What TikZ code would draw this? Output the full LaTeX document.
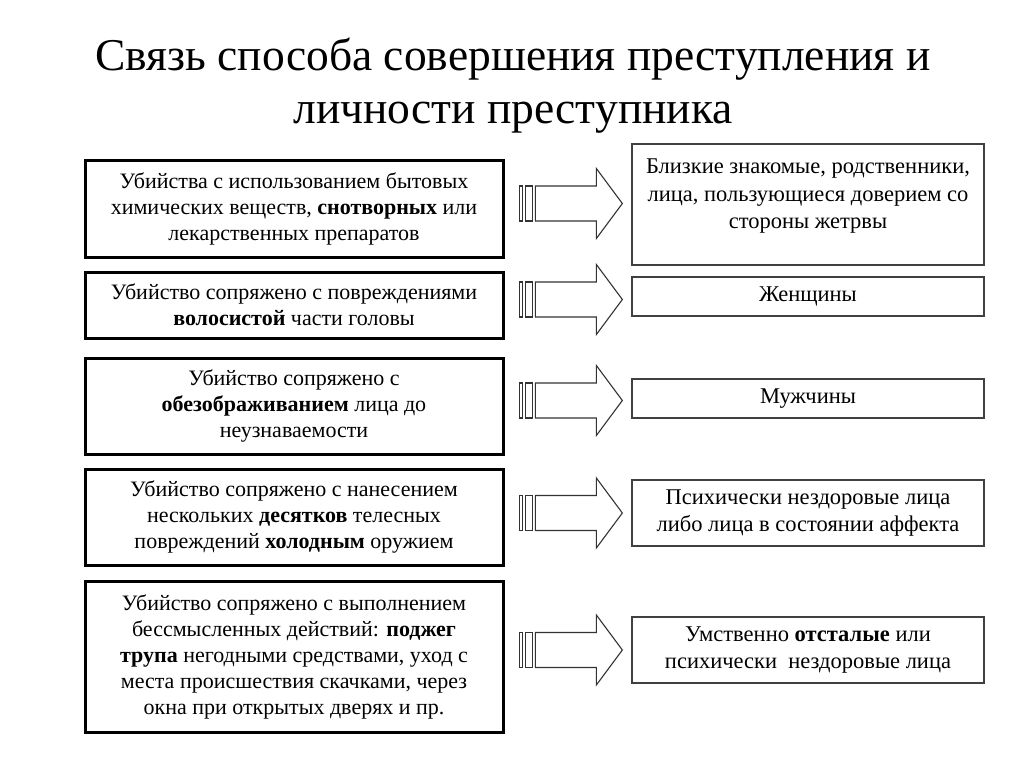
\documentclass[tikz,border=0pt]{standalone}
\usepackage{fontspec}
\setmainfont{Liberation Serif}
\usetikzlibrary{calc}
\begin{document}
\begin{tikzpicture}[x=1pt,y=-1pt,
  lbox/.style={draw=black,line width=3pt,align=center,inner sep=0pt,
    minimum width=418pt,font=\fontsize{22}{26}\selectfont},
  rbox/.style={draw=black!75,line width=1.3pt,align=center,inner sep=0pt,
    minimum width=352pt,font=\fontsize{22.5}{27}\selectfont},
  btext/.style={align=center,inner sep=0pt,font=\fontsize{22.5}{27.5}\selectfont},
  arrline/.style={draw=black!80,line width=1.1pt,fill=white,line join=miter},
  stripearrow/.pic={
    \path[arrline] (-26,-17.5) -- (-87,-17.5) -- (-87,17.5) -- (-26,17.5)
      -- (-26,35) -- (0,0) -- (-26,-35) -- cycle;
    \path[arrline] (-97,-17.5) rectangle (-90,17.5);
    \path[arrline] (-103,-17.5) rectangle (-100,17.5);
  }]
\useasboundingbox (0,0) rectangle (1024,767);
\fill[white] (0,0) rectangle (1024,767);

\node[align=center,font=\fontsize{45.5}{53}\selectfont] (title) at (513,86)
  {Связь способа совершения преступления и\\личности преступника};

% left boxes
\node[lbox,minimum height=96pt] (L1) at (294,209)
  {Убийства с использованием бытовых\\химических веществ, \textbf{снотворных} или\\лекарственных препаратов};
\node[lbox,minimum height=66pt] (L2) at (294,305)
  {Убийство сопряжено с повреждениями\\\textbf{волосистой} части головы};
\node[lbox,minimum height=96pt] (L3) at (294,406)
  {Убийство сопряжено с\\\textbf{обезображиванием} лица до\\неузнаваемости};
\node[lbox,minimum height=96pt] (L4) at (294,517)
  {Убийство сопряжено с нанесением\\нескольких \textbf{десятков} телесных\\повреждений \textbf{холодным} оружием};
\node[lbox,minimum height=151pt] (L5) at (294,656.5)
  {Убийство сопряжено с выполнением\\бессмысленных действий: \textbf{поджег}\\\textbf{трупа} негодными средствами, уход с\\места происшествия скачками, через\\окна при открытых дверях и пр.};

% right boxes
\node[rbox,minimum height=121pt] (R1) at (808,204.5) {};
\node[btext] (R1t) at ($(R1.center)+(0,-8)$)
  {Близкие знакомые, родственники,\\лица, пользующиеся доверием со\\стороны жетрвы};
\node[rbox,minimum height=39pt] (R2) at (808,296.5) {Женщины};
\node[rbox,minimum height=39pt] (R3) at (808,398.5) {Мужчины};
\node[rbox,minimum height=66pt] (R4) at (808,513)
  {Психически нездоровые лица\\либо лица в состоянии аффекта};
\node[rbox,minimum height=66pt] (R5) at (808,650)
  {Умственно \textbf{отсталые} или\\психически\ \ нездоровые лица};

% arrows
\pic at ($(R1.west)+(-9,-1)$) {stripearrow};
\pic at ($(R2.west)+(-9,3)$) {stripearrow};
\pic at ($(R3.west)+(-9,2)$) {stripearrow};
\pic at ($(R4.west)+(-9,0)$) {stripearrow};
\pic at ($(R5.west)+(-9,0)$) {stripearrow};
\end{tikzpicture}
\end{document}
